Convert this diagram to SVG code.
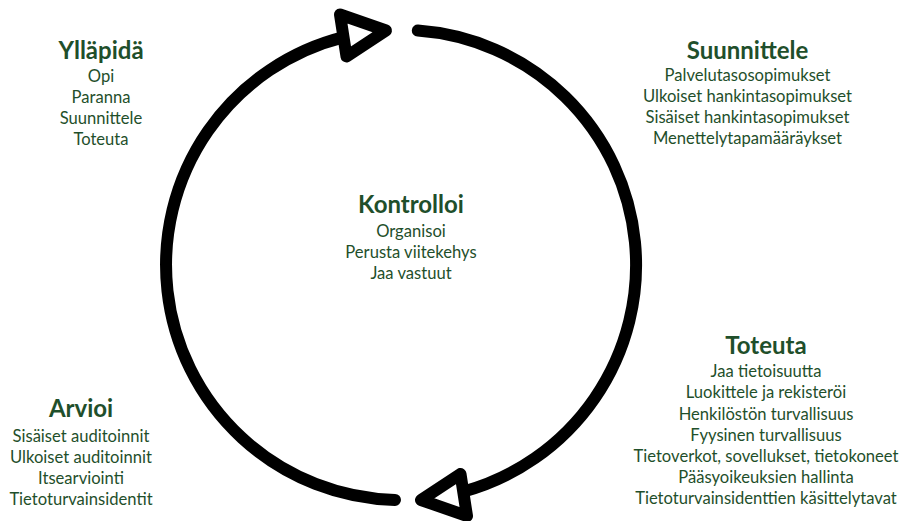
<svg xmlns="http://www.w3.org/2000/svg" xmlns:xlink="http://www.w3.org/1999/xlink" width="901" height="521" viewBox="0 0 901 521">
  <style>
    .arc { fill: none; stroke: #000; stroke-width: 12; stroke-linecap: round; }
    .head { fill: #fff; stroke: #000; stroke-width: 12; stroke-linejoin: round; }
    text { font-family: Lato, "Liberation Sans", sans-serif; text-anchor: middle; fill: #1f4f2b; }
    .title { font-size: 24px; font-weight: bold; }
    .item { font-size: 16.6px; }
  </style>
  <defs>
    <!-- open triangular arrowhead, pointing clockwise along the top of the cycle -->
    <polygon id="arrowhead" class="head" points="340,14.5 346.5,56.5 386,30.5"/>
  </defs>

  <!-- cycle connectors -->
  <g id="connectors">
    <path class="arc" d="M 395 499.9 A 235 235 0 0 1 343.75 37.07"/>
    <path class="arc" d="M 417.8 30.6 A 235 235 0 0 1 463 491.7"/>
    <use xlink:href="#arrowhead"/>
    <use xlink:href="#arrowhead" transform="rotate(180 403.5 265.25)"/>
  </g>

  <g id="yllapida">
    <text class="title" x="101" y="59">Ylläpidä</text>
    <text class="item" x="101" y="82">Opi</text>
    <text class="item" x="101" y="103">Paranna</text>
    <text class="item" x="101" y="124">Suunnittele</text>
    <text class="item" x="101" y="145">Toteuta</text>
  </g>

  <g id="suunnittele">
    <text class="title" x="747.5" y="58.5">Suunnittele</text>
    <text class="item" x="747.5" y="81">Palvelutasosopimukset</text>
    <text class="item" x="747.5" y="102">Ulkoiset hankintasopimukset</text>
    <text class="item" x="747.5" y="123">Sisäiset hankintasopimukset</text>
    <text class="item" x="747.5" y="144">Menettelytapamääräykset</text>
  </g>

  <g id="kontrolloi">
    <text class="title" x="411" y="213">Kontrolloi</text>
    <text class="item" x="411" y="237">Organisoi</text>
    <text class="item" x="411" y="258">Perusta viitekehys</text>
    <text class="item" x="411" y="279">Jaa vastuut</text>
  </g>

  <g id="toteuta">
    <text class="title" x="766" y="353.5">Toteuta</text>
    <text class="item" x="766" y="377">Jaa tietoisuutta</text>
    <text class="item" x="766" y="398">Luokittele ja rekisteröi</text>
    <text class="item" x="766" y="419.5">Henkilöstön turvallisuus</text>
    <text class="item" x="766" y="440.5">Fyysinen turvallisuus</text>
    <text class="item" x="766" y="461.5">Tietoverkot, sovellukset, tietokoneet</text>
    <text class="item" x="766" y="482.5">Pääsyoikeuksien hallinta</text>
    <text class="item" x="766" y="503.5">Tietoturvainsidenttien käsittelytavat</text>
  </g>

  <g id="arvioi">
    <text class="title" x="81" y="417">Arvioi</text>
    <text class="item" x="81" y="442">Sisäiset auditoinnit</text>
    <text class="item" x="81" y="463">Ulkoiset auditoinnit</text>
    <text class="item" x="81" y="484">Itsearviointi</text>
    <text class="item" x="81" y="505">Tietoturvainsidentit</text>
  </g>
</svg>
